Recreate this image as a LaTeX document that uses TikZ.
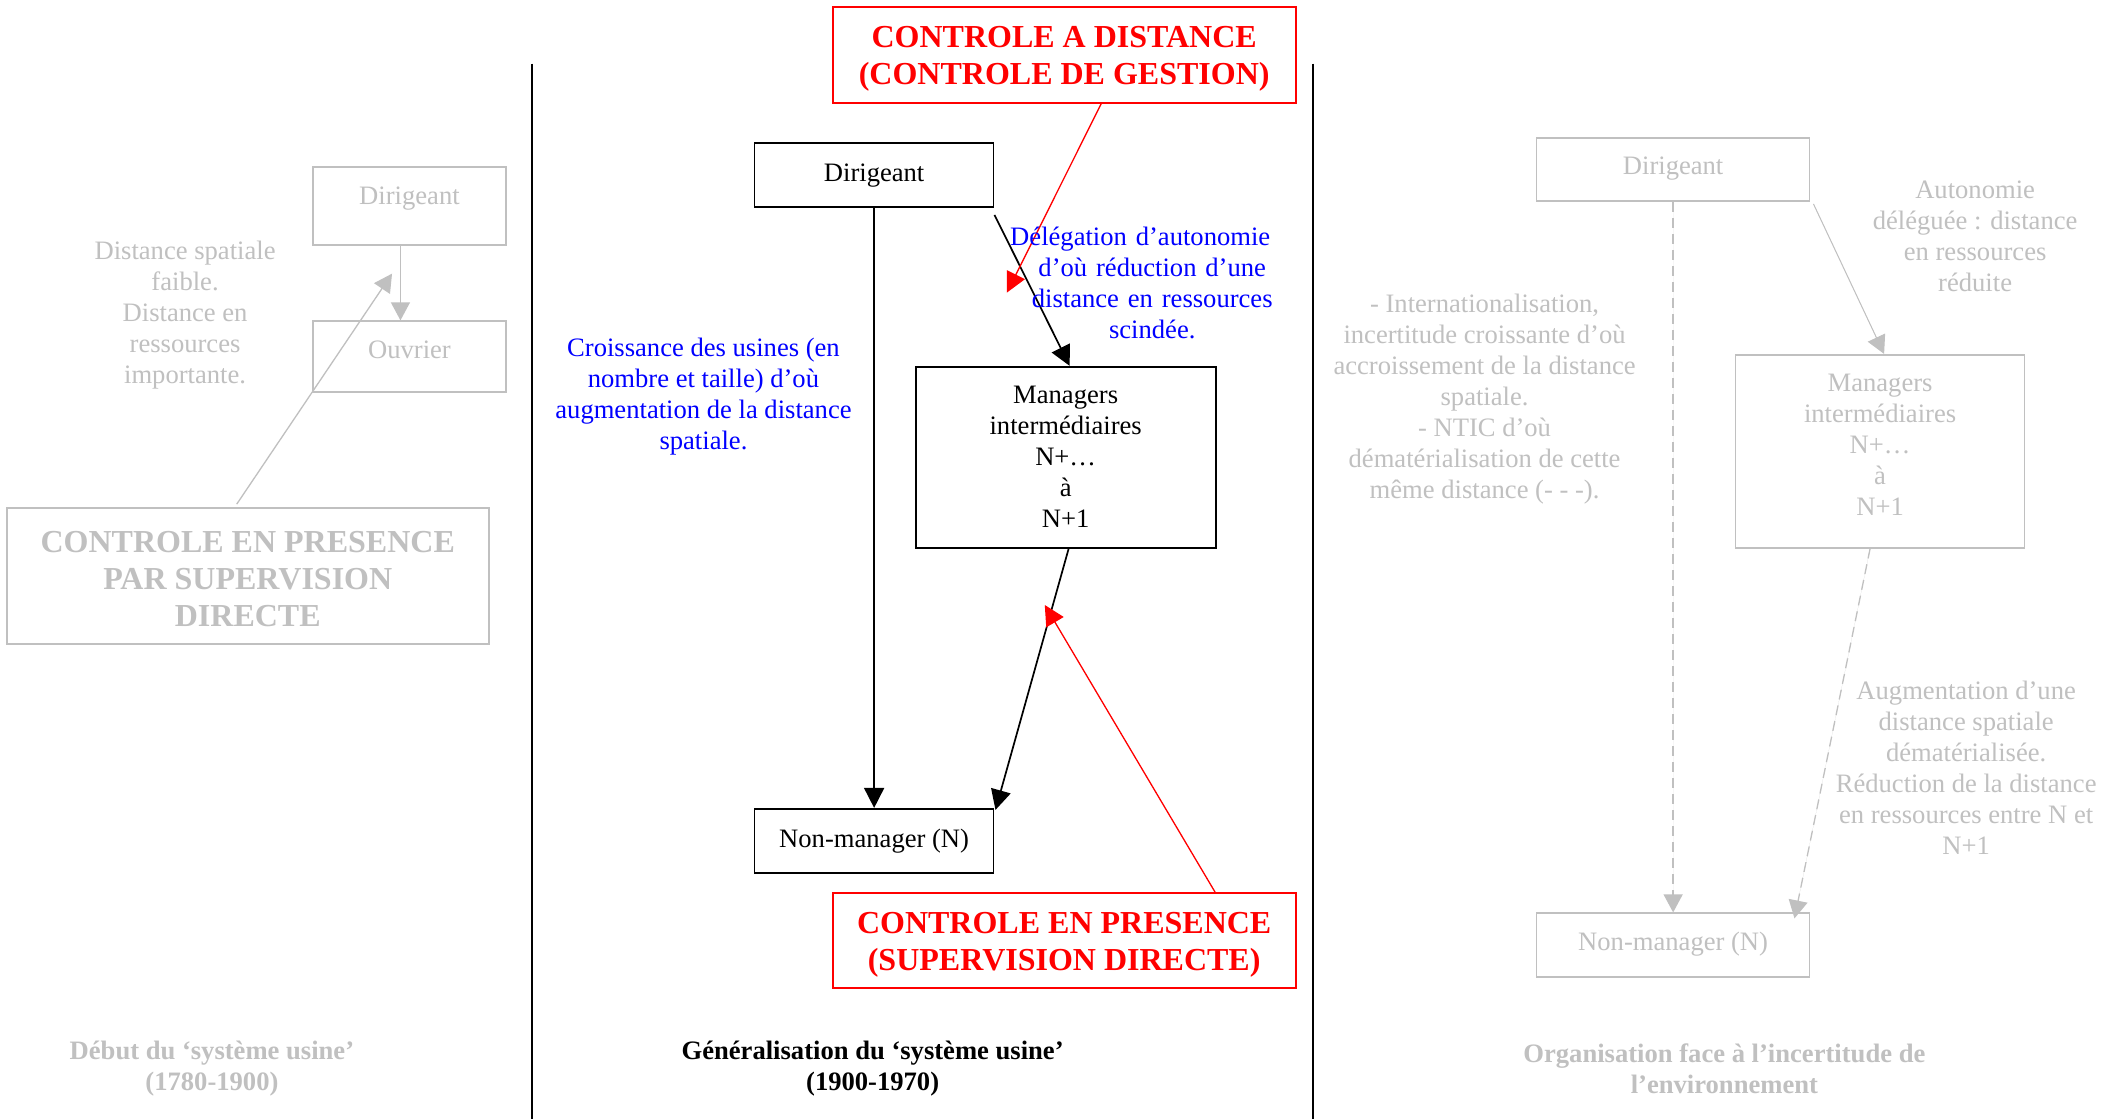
\documentclass[tikz,border=0pt]{standalone}
\usepackage{fontspec}
\setmainfont{Liberation Serif}
\usetikzlibrary{arrows.meta,calc}
\definecolor{lg}{RGB}{192,192,192}
\definecolor{rd}{RGB}{255,0,0}
\definecolor{bl}{RGB}{0,0,255}
\begin{document}
\begin{tikzpicture}[x=0.4975pt,y=-0.4975pt,
  txt/.style={font=\fontsize{13.3}{15.5}\selectfont, align=center, inner sep=0pt},
  lab/.style={font=\fontsize{13.3}{15.5}\selectfont\bfseries, align=center, inner sep=0pt},
  big/.style={font=\fontsize{16}{18.5}\selectfont\bfseries, align=center, inner sep=0pt},
  bigbox/.style={draw, line width=1pt, inner sep=0pt},
  box/.style={draw, line width=0.85pt, inner sep=0pt, font=\fontsize{13.3}{15.5}\selectfont, align=center},
  gbox/.style={box, draw=lg, text=lg},
  arr/.style={line width=0.85pt, -{Triangle[length=10pt,width=10pt]}},
  rarr/.style={arr, draw=rd, fill=rd, line width=0.65pt},
  garr/.style={line width=0.65pt, draw=lg, fill=lg, -{Triangle[length=9pt,width=9.5pt]}},
  gthin/.style={garr, line width=0.5pt},
  gdash/.style={garr, dash pattern=on 5pt off 3pt},
  ]
\fill[white] (0,0) rectangle (2128.6,1124.6);
\useasboundingbox (0,0) rectangle (2128.6,1124.6);

% separators
\draw[line width=1pt] (535,64) -- (535,1124.6);
\draw[line width=1pt] (1320,64) -- (1320,1124.6);

% ---------- left column ----------
\node[gbox, minimum width=96.5pt, text height=19pt, text depth=20pt, anchor=base] (ld) at (411.5,206) {Dirigeant};
\node[gbox, minimum width=96.5pt, text height=18.5pt, text depth=17pt, anchor=base] (ou) at (411.5,360) {Ouvrier};
\node[bigbox, draw=lg, minimum width=241pt, minimum height=68pt,
  label={[big, text=lg, yshift=-1.5pt]center:{CONTROLE EN PRESENCE\\PAR SUPERVISION\\DIRECTE}}] (gb) at (249,579) {};
\node[txt, text=lg] (t1) at (186,317) {Distance spatiale\\faible.\\Distance en\\ressources\\importante.};
\coordinate (ltip) at (394,275);
\draw[garr] ([xshift=-4.5pt]ld.south) -- ([xshift=-4.5pt]ou.north);
\draw[garr] ([xshift=-5.5pt,yshift=1.5pt]gb.north) -- (ltip);
\node[lab, text=lg] (l1) at (213,1074) {Début du ‘système usine’\\(1780-1900)};

% ---------- middle column ----------
\node[bigbox, draw=rd, minimum width=231.5pt, minimum height=48pt,
  label={[big, text=rd, yshift=-2pt]center:{CONTROLE A DISTANCE\\(CONTROLE DE GESTION)}}] (rt) at (1069.5,55) {};
\node[bigbox, draw=rd, minimum width=231.5pt, minimum height=47.5pt,
  label={[big, text=rd, yshift=-2.2pt]center:{CONTROLE EN PRESENCE\\(SUPERVISION DIRECTE)}}] (rb) at (1069.5,945.5) {};
\node[box, minimum width=119.5pt, text height=19pt, text depth=13pt, anchor=base] (dm) at (878.5,182) {Dirigeant};
\node[box, minimum width=119.5pt, text height=19.5pt, text depth=12.5pt, anchor=base] (nm) at (878.5,852) {Non-manager (N)};
\node[box, minimum width=150pt, minimum height=90.5pt] (mm) at (1071,459.5) {Managers\\intermédiaires\\N+…\\à\\N+1};
\draw[arr] (dm.south) -- (nm.north);
\draw[arr] ([yshift=-3.5pt]dm.south east) -- ([xshift=2pt]mm.north);
\draw[arr] ([xshift=1.5pt]mm.south) -- ([xshift=0.5pt,yshift=-1pt]nm.north east);
\coordinate (rt1) at (1012,294);
\coordinate (rb1) at (1050,608);
\draw[rarr] ([xshift=18.5pt]rt.south) -- (rt1);
\draw[rarr] ([xshift=75.5pt]rb.north) -- (rb1);
\node[txt, text=bl] (c1) at (707,399) {Croissance des usines (en\\nombre et taille) d’où\\augmentation de la distance\\spatiale.};
\node[txt, text=bl, text width=140pt] (c2) at (1158,284) {\hspace*{-12pt}Délégation d’autonomie\\d’où réduction d’une\\distance en ressources\\scindée.};
\node[lab] (l2) at (877,1074) {Généralisation du ‘système usine’\\(1900-1970)};

% ---------- right column ----------
\node[gbox, minimum width=136.5pt, text height=18pt, text depth=13.5pt, anchor=base] (rdg) at (1681.5,175) {Dirigeant};
\node[gbox, minimum width=136.5pt, text height=18.5pt, text depth=13.5pt, anchor=base] (rn) at (1681.5,955) {Non-manager (N)};
\node[gbox, minimum width=144.5pt, minimum height=96.5pt,
  label={[txt, text=lg, yshift=3pt]center:{Managers\\intermédiaires\\N+…\\à\\N+1}}] (rmg) at (1889.5,453.5) {};
\draw[gdash] (rdg.south) -- (rn.north);
\draw[gthin] ([xshift=1.5pt,yshift=-1pt]rdg.south east) -- ([xshift=2pt]rmg.north);
\draw[gdash] ([xshift=-5pt]rmg.south) -- ([xshift=-8pt,yshift=-3pt]rn.north east);
\node[txt, text=lg] (r1) at (1985,237.5) {Autonomie\\déléguée : distance\\en ressources\\réduite};
\node[txt, text=lg] (r2) at (1492,401) {- Internationalisation,\\incertitude croissante d’où\\accroissement de la distance\\spatiale.\\- NTIC d’où\\dématérialisation de cette\\même distance (- - -).};
\node[txt, text=lg] (r3) at (1976,771.5) {Augmentation d’une\\distance spatiale\\dématérialisée.\\Réduction de la distance\\en ressources entre N et\\N+1};
\node[lab, text=lg] (l3) at (1733,1074) {Organisation face à l’incertitude de\\l’environnement};
\end{tikzpicture}
\end{document}
